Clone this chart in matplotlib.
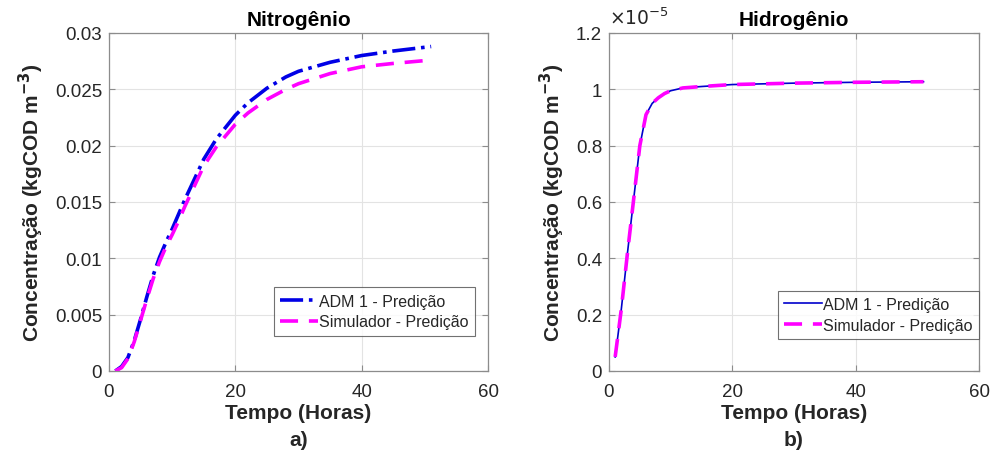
import matplotlib
matplotlib.use("Agg")
import matplotlib.pyplot as plt
import numpy as np
from matplotlib.ticker import FuncFormatter, FixedLocator

plt.rcParams['font.family'] = ['Liberation Sans', 'DejaVu Sans']

# Nitrogênio
t_n = [1, 2, 3, 4, 5, 6, 7, 8, 9, 10, 11, 12, 13, 15, 17, 20, 22, 25, 28, 30, 35, 40, 45, 51]
n_adm = [0.0, 0.0004, 0.0012, 0.0027, 0.0046, 0.0066, 0.0085, 0.0101, 0.0114, 0.0126,
         0.0139, 0.0152, 0.0164, 0.0188, 0.0206, 0.0227, 0.0238, 0.0251, 0.0261, 0.0266,
         0.0274, 0.0280, 0.0284, 0.0288]
n_sim = [0.0, 0.0003, 0.0011, 0.0026, 0.0045, 0.0064, 0.0082, 0.0097, 0.0110, 0.0121,
         0.0133, 0.0146, 0.0158, 0.0182, 0.0199, 0.0219, 0.0229, 0.0241, 0.0250, 0.0255,
         0.0264, 0.0270, 0.0273, 0.0276]

# Hidrogênio
t_h = [1, 2, 3, 4, 5, 6, 7, 8, 9, 10, 12, 15, 20, 30, 40, 51]
h_adm = [0.05e-5, 0.22e-5, 0.42e-5, 0.61e-5, 0.80e-5, 0.91e-5, 0.95e-5, 0.97e-5, 0.985e-5,
         0.995e-5, 1.005e-5, 1.010e-5, 1.017e-5, 1.022e-5, 1.025e-5, 1.027e-5]
h_sim = [0.05e-5, 0.22e-5, 0.42e-5, 0.61e-5, 0.80e-5, 0.91e-5, 0.95e-5, 0.97e-5, 0.985e-5,
         0.995e-5, 1.005e-5, 1.010e-5, 1.017e-5, 1.022e-5, 1.025e-5, 1.027e-5]

titles = ['Nitrogênio', 'Hidrogênio']
panel_labels = ['a)', 'b)']
legend_labels = ['ADM 1 - Predição', 'Simulador - Predição']

fig = plt.figure(figsize=(9.93, 4.52), dpi=100)
W, H = 993, 452
ax1 = fig.add_axes([109 / W, 1 - 372 / H, (488 - 109) / W, (372 - 34) / H])
ax2 = fig.add_axes([609 / W, 1 - 372 / H, (979 - 609) / W, (372 - 34) / H])

grey = '#262626'
for ax in (ax1, ax2):
    ax.grid(True, color='#e3e3e3', linewidth=0.8)
    ax.set_axisbelow(True)
    for s in ax.spines.values():
        s.set_color('#8c8c8c')
        s.set_linewidth(0.9)
    ax.tick_params(direction='in', length=4, color='#8c8c8c', labelsize=13.5,
                   labelcolor=grey, top=True, right=True)
    ax.tick_params(axis='x', pad=9)
    ax.tick_params(axis='y', pad=5)
    ax.set_xlim(0, 60)
    ax.set_xticks([0, 20, 40, 60])

ax1.plot(t_n, n_adm, color='#0000e6', linestyle='-.', linewidth=2.6, label=legend_labels[0])
ax1.plot(t_n, n_sim, color='#ff00ff', linestyle=(0, (5, 3)), linewidth=2.6, label=legend_labels[1])
ax1.set_ylim(0, 0.03)
ax1.set_yticks([0, 0.005, 0.01, 0.015, 0.02, 0.025, 0.03])
ax1.yaxis.set_major_formatter(FuncFormatter(lambda v, p: f"{v:g}"))

ax2.plot(t_h, h_adm, color='#0000cc', linestyle='-', linewidth=1.2, label=legend_labels[0])
ax2.plot(t_h, h_sim, color='#ff00ff', linestyle=(0, (5, 3)), linewidth=2.6, label=legend_labels[1])
ax2.set_ylim(0, 1.2e-5)
ax2.yaxis.set_major_locator(FixedLocator([0, 0.2e-5, 0.4e-5, 0.6e-5, 0.8e-5, 1.0e-5, 1.2e-5]))
ax2.yaxis.set_major_formatter(FuncFormatter(lambda v, p: f"{round(v / 1e-5, 2):g}"))
ax2.text(0.0, 1.015, r'$\times10^{-5}$', transform=ax2.transAxes, fontsize=13.5,
         color=grey, ha='left', va='bottom')

for ax, title, pl in zip((ax1, ax2), titles, panel_labels):
    ax.set_title(title, fontsize=15, fontweight='bold', color='black', pad=6)
    ax.set_xlabel('Tempo (Horas)', fontsize=15, fontweight='bold', color=grey, labelpad=2)
    ax.set_ylabel('Concentração (kgCOD m$^{\\mathbf{-3}}$)', fontsize=15, fontweight='bold',
                  color=grey, labelpad=6)
    ax.text(0.5, -0.175, pl, transform=ax.transAxes, fontsize=15, fontweight='bold',
            color=grey, ha='center', va='top')

leg_kw = dict(fontsize=11.5, frameon=True, fancybox=False, borderpad=0.4, handlelength=2.4,
              handletextpad=0.05, labelspacing=0.35, borderaxespad=0, loc='lower right')
leg1 = ax1.legend(bbox_to_anchor=(0.966, 0.104), **leg_kw)
leg2 = ax2.legend(bbox_to_anchor=(1.0, 0.095), **leg_kw)
for leg in (leg1, leg2):
    leg.get_frame().set_edgecolor('#4d4d4d')
    leg.get_frame().set_linewidth(0.8)
    for txt in leg.get_texts():
        txt.set_color(grey)

fig.savefig('out.png', dpi=100)
